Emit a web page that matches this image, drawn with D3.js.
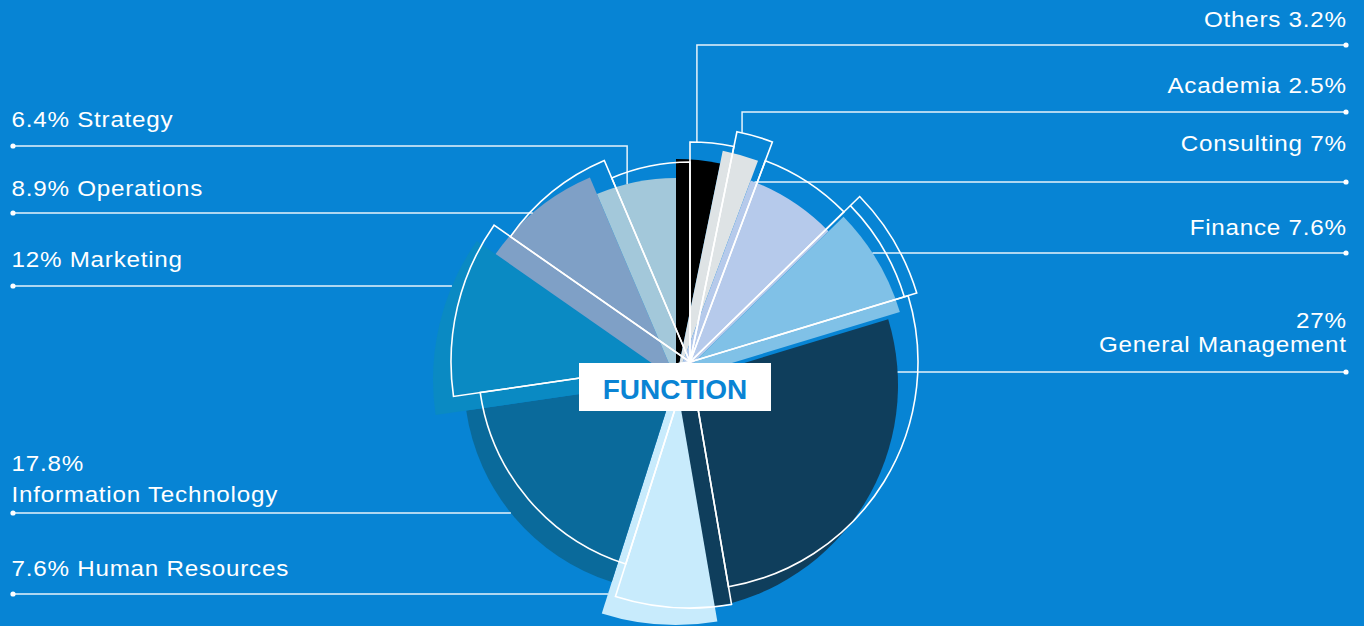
<!DOCTYPE html>
<html><head><meta charset="utf-8">
<script src="https://cdn.jsdelivr.net/npm/d3@7"></script>
<style>html,body{margin:0;padding:0;background:#0784d4;overflow:hidden}</style>
</head><body><svg id="chart" width="1364" height="626"></svg>
<script>
// ---- data ----
const categories = ["Others","Academia","Consulting","Finance","General Management","Human Resources","Information Technology","Marketing","Operations","Strategy"];
const shares = [3.2, 2.5, 7, 7.6, 27, 7.6, 17.8, 12, 8.9, 6.4];
const labelTexts = [
  ["Others 3.2%"],
  ["Academia 2.5%"],
  ["Consulting 7%"],
  ["Finance 7.6%"],
  ["27%", "General Management"],
  ["7.6% Human Resources"],
  ["17.8%", "Information Technology"],
  ["12% Marketing"],
  ["8.9% Operations"],
  ["6.4% Strategy"]
];
const centerTitle = "FUNCTION";

// ---- style / layout ----
const W = 1364, H = 626;
const bg = "#0784d4";
const colors = ["#000000","#dee3e5","#b6caeb","#80c1e7","#0f3e5c","#c8ebfc","#0a6a9b","#0a8ac3","#7fa0c6","#a3c8da"];
const fillRadii = [221, 234, 213, 234, 226, 245, 212, 243, 220, 202];
const fillShift = [[0,0],[0,0],[0,0],[0,0],[-4,5],[0,0],[0,0],[0,0],[0,0],[0,0]];
const outlineRadii = [220, 235, 215, 237, 228, 246, 212, 239, 219, 200];
const fillC = [676, 380];
const lineC = [690, 362];
// label layout: side, leader y, text baselines, leader mode
const labelLayout = [
  {side:"R", y:45,  base:[27],      mode:"elbowOutline", ang:1.8},
  {side:"R", y:112, base:[93],      mode:"elbowOutline", ang:12.8},
  {side:"R", y:182, base:[151],     mode:"h"},
  {side:"R", y:253, base:[235],     mode:"h"},
  {side:"R", y:372, base:[328,352], mode:"h"},
  {side:"L", y:594, base:[576],     mode:"h"},
  {side:"L", y:513, base:[471,502], mode:"h"},
  {side:"L", y:286, base:[267],     mode:"h"},
  {side:"L", y:213, base:[196],     mode:"h"},
  {side:"L", y:146, base:[127],     mode:"elbowFill", ang:346}
];
const leftX = 13, rightX = 1346;
const fontFam = "'Liberation Sans', Arial, Helvetica, sans-serif";
const fontSize = 22, fontStretch = 1.1, spacing = 0.7;

const svg = d3.select("#chart");
svg.append("rect").attr("width", W).attr("height", H).attr("fill", bg);

const pie = d3.pie().sort(null).value(d => d)(shares);

// fills
const gFill = svg.append("g").attr("transform", `translate(${fillC[0]},${fillC[1]})`);
gFill.selectAll("path").data(pie).join("path")
  .attr("transform", (d, i) => `translate(${fillShift[i][0]},${fillShift[i][1]})`)
  .attr("d", (d, i) => d3.arc().innerRadius(0).outerRadius(fillRadii[i])(d))
  .attr("fill", (d, i) => colors[i]);

// outlines
const gLine = svg.append("g").attr("transform", `translate(${lineC[0]},${lineC[1]})`);
gLine.selectAll("path.o").data(pie).join("path").attr("class", "o")
  .attr("d", (d, i) => d3.arc().innerRadius(0).outerRadius(outlineRadii[i])(d))
  .attr("fill", "none").attr("stroke", "#ffffff").attr("stroke-width", 1.6)
  .attr("stroke-linejoin", "miter");
// inner ring segment crossing the Finance wedge
gLine.append("path")
  .attr("d", d3.arc().innerRadius(224).outerRadius(224)({startAngle: pie[3].startAngle, endAngle: pie[3].endAngle}))
  .attr("fill", "none").attr("stroke", "#ffffff").attr("stroke-width", 1.6);

// geometry helpers
function angOf(dx, dy) { let a = Math.atan2(dx, -dy); if (a < 0) a += 2*Math.PI; return a; }
function wedgeExtremeX(d, R, c, y, side) {
  const cand = [];
  const dy = y - c[1];
  if (Math.abs(dy) <= R) {
    const dx = Math.sqrt(R*R - dy*dy);
    [dx, -dx].forEach(v => { const a = angOf(v, dy); if (a >= d.startAngle && a <= d.endAngle) cand.push(c[0] + v); });
  }
  [d.startAngle, d.endAngle].forEach(a => {
    const cs = -Math.cos(a);
    if (Math.abs(cs) > 1e-6) { const t = dy / cs; if (t >= 0 && t <= R) cand.push(c[0] + t*Math.sin(a)); }
  });
  return side === "L" ? d3.min(cand) : d3.max(cand);
}

// leaders
const gLead = svg.append("g");
labelLayout.forEach((L, i) => {
  const d = pie[i];
  const c = [fillC[0] + fillShift[i][0], fillC[1] + fillShift[i][1]];
  const x0 = L.side === "L" ? leftX : rightX;
  let pts;
  if (L.mode === "h") {
    const xe = wedgeExtremeX(d, fillRadii[i], c, L.y, L.side);
    pts = [[x0, L.y], [xe, L.y]];
  } else if (L.mode === "elbowOutline") {
    const a = L.ang * Math.PI/180, R = outlineRadii[i];
    const xe = lineC[0] + R*Math.sin(a), ye = lineC[1] - R*Math.cos(a);
    pts = [[x0, L.y], [xe, L.y], [xe, ye]];
  } else {
    const a = L.ang * Math.PI/180, R = fillRadii[i];
    const xe = c[0] + R*Math.sin(a), ye = c[1] - R*Math.cos(a);
    pts = [[x0, L.y], [xe, L.y], [xe, ye]];
  }
  gLead.append("path").attr("d", d3.line()(pts))
    .attr("fill", "none").attr("stroke", "#ffffff").attr("stroke-opacity", 0.9).attr("stroke-width", 1.5);
  gLead.append("circle").attr("cx", x0).attr("cy", L.y).attr("r", 2.6).attr("fill", "#ffffff");
  labelTexts[i].forEach((t, k) => {
    const tx = L.side === "L" ? 11.5 : 1346 + spacing * fontStretch;
    gLead.append("text")
      .attr("transform", `translate(${tx},${L.base[k]}) scale(${fontStretch},1)`)
      .attr("text-anchor", L.side === "L" ? "start" : "end")
      .attr("font-family", fontFam).attr("font-size", fontSize)
      .attr("letter-spacing", spacing + "px")
      .attr("fill", "#ffffff").text(t);
  });
});

// center box
svg.append("rect").attr("x", 579).attr("y", 363).attr("width", 192).attr("height", 48).attr("fill", "#ffffff");
svg.append("text").attr("x", 675).attr("y", 399).attr("text-anchor", "middle")
  .attr("font-family", fontFam).attr("font-weight", "bold").attr("font-size", 28)
  .attr("fill", "#0a84d4").text(centerTitle);
</script></body></html>
